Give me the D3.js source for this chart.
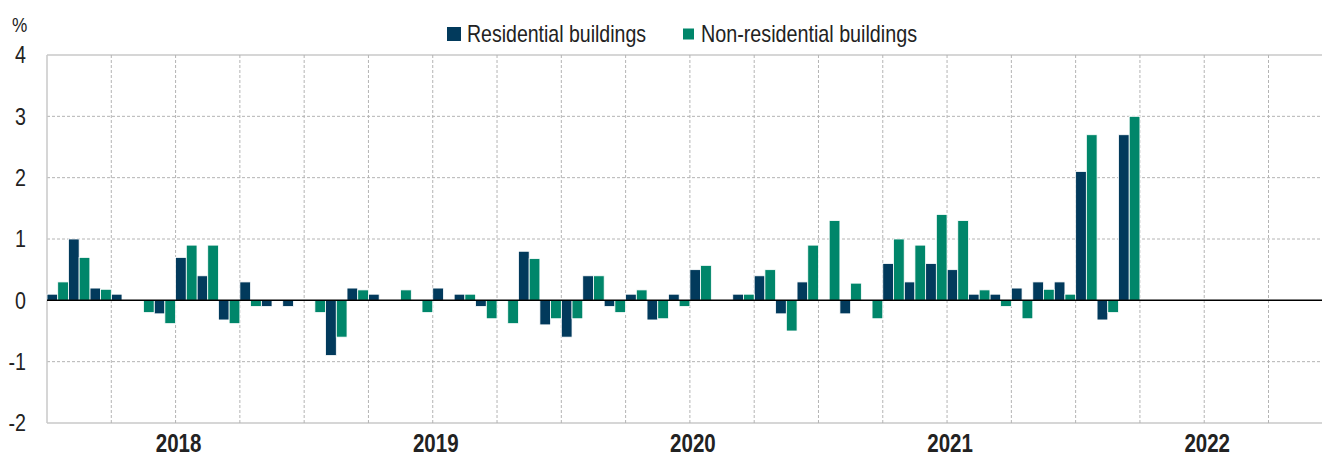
<!DOCTYPE html>
<html>
<head>
<meta charset="utf-8">
<script src="https://cdn.jsdelivr.net/npm/d3@7"></script>
<style>
  body { margin: 0; background: #fff; }
  svg text { font-family: "Liberation Sans Narrow", "Arial Narrow", "Liberation Sans", Arial, sans-serif; fill: #222; }
</style>
</head>
<body>
<div id="chart"></div>
<script>
"use strict";

// months on the axis, Jul 2017 .. Jun 2022 (data ends Sep 2021)
var months = d3.timeMonths(new Date(2017, 6, 1), new Date(2022, 6, 1));

var residential = [0.1, 1.0, 0.2, 0.1, 0, -0.22, 0.7, 0.4, -0.32, 0.3, -0.1, -0.1,
                   0, -0.9, 0.2, 0.1, 0, 0, 0.2, 0.1, -0.1, 0, 0.8, -0.4,
                   -0.6, 0.4, -0.1, 0.1, -0.32, 0.1, 0.5, 0, 0.1, 0.4, -0.22, 0.3,
                   0, -0.22, 0, 0.6, 0.3, 0.6, 0.5, 0.1, 0.1, 0.2, 0.3, 0.3,
                   2.1, -0.32, 2.7];
var nonResidential = [0.3, 0.7, 0.18, 0, -0.2, -0.38, 0.9, 0.9, -0.38, -0.1, 0, 0,
                      -0.2, -0.6, 0.17, 0, 0.17, -0.2, 0, 0.1, -0.3, -0.38, 0.68, -0.3,
                      -0.3, 0.4, -0.2, 0.17, -0.3, -0.1, 0.57, 0, 0.1, 0.5, -0.5, 0.9,
                      1.3, 0.28, -0.3, 1.0, 0.9, 1.4, 1.3, 0.17, -0.1, -0.3, 0.18, 0.1,
                      2.7, -0.2, 3.0];

var seriesNames = ["Residential buildings", "Non-residential buildings"];
var seriesColors = ["#023a5c", "#00866a"];
var yTicks = [-2, -1, 0, 1, 2, 3, 4];
var yearLabels = ["2018", "2019", "2020", "2021", "2022"];

var W = 1322, H = 456;
var margin = { top: 55, left: 47, bottom: 33 };
var monthW = 21.43;
var narrow = 0.82; // squeeze to look like Arial Narrow

var svg = d3.select("#chart").append("svg")
  .attr("width", W).attr("height", H);

var x = d3.scaleBand()
  .domain(months.map(function (d) { return +d; }))
  .range([margin.left, margin.left + months.length * monthW])
  .padding(0);

var sub = d3.scaleBand().domain([0, 1]).range([0, x.bandwidth()]).padding(0);

var y = d3.scaleLinear().domain([-2, 4]).range([H - margin.bottom, margin.top]);

// horizontal grid
svg.append("g").selectAll("line")
  .data(yTicks.filter(function (t) { return t !== 0; }))
  .enter().append("line")
  .attr("x1", margin.left).attr("x2", W)
  .attr("y1", function (d) { return y(d); }).attr("y2", function (d) { return y(d); })
  .attr("stroke", function (d) { return (d === 4 || d === -2) ? "#c8c8c8" : "#b4b4b4"; })
  .attr("stroke-width", function (d) { return (d === 4 || d === -2) ? 1.5 : 1; })
  .attr("stroke-dasharray", function (d) { return (d === 4 || d === -2) ? null : "3,2"; });

// vertical quarter grid
var quarters = months.filter(function (d, i) { return i > 0 && d.getMonth() % 3 === 0; });
svg.append("g").selectAll("line")
  .data(quarters)
  .enter().append("line")
  .attr("x1", function (d) { return x(+d); }).attr("x2", function (d) { return x(+d); })
  .attr("y1", y(4)).attr("y2", y(-2))
  .attr("stroke", "#b4b4b4")
  .attr("stroke-dasharray", "3,2");

// left frame
svg.append("line")
  .attr("x1", margin.left).attr("x2", margin.left)
  .attr("y1", y(4)).attr("y2", y(-2))
  .attr("stroke", "#c8c8c8").attr("stroke-width", 1.5);

// bars
var bars = [];
residential.forEach(function (v, i) { bars.push({ m: +months[i], s: 0, v: v }); });
nonResidential.forEach(function (v, i) { bars.push({ m: +months[i], s: 1, v: v }); });

svg.append("g").selectAll("rect")
  .data(bars.filter(function (d) { return d.v !== 0; }))
  .enter().append("rect")
  .attr("x", function (d) { return x(d.m) + sub(d.s); })
  .attr("width", sub.bandwidth())
  .attr("y", function (d) { return y(Math.max(0, d.v)); })
  .attr("height", function (d) { return Math.abs(y(d.v) - y(0)); })
  .attr("fill", function (d) { return seriesColors[d.s]; })
  .attr("stroke", "#fff")
  .attr("stroke-width", 0.8);

// zero line
svg.append("line")
  .attr("x1", margin.left).attr("x2", W)
  .attr("y1", y(0)).attr("y2", y(0))
  .attr("stroke", "#000").attr("stroke-width", 1.5);

// y axis labels
var yAxis = d3.axisLeft(y).tickValues(yTicks).tickSize(0).tickPadding(21 / narrow)
  .tickFormat(function (d) { return String(d); });
svg.append("g")
  .attr("transform", "translate(" + margin.left + ",0)")
  .call(yAxis)
  .call(function (g) { g.select(".domain").remove(); })
  .selectAll("text")
  .attr("transform", "scale(" + narrow + ",1)")
  .style("font-size", "24px")
  .attr("font-family", null)
  .attr("fill", "#222");

svg.append("text")
  .attr("transform", "translate(12,32) scale(" + narrow + ",1)")
  .style("font-size", "21px")
  .text("%");

// year labels
svg.append("g").selectAll("text")
  .data(yearLabels)
  .enter().append("text")
  .attr("transform", function (d) {
    return "translate(" + (x(+new Date(+d, 0, 1)) + 3) + ",452) scale(" + narrow + ",1)";
  })
  .attr("text-anchor", "middle")
  .style("font-size", "25px")
  .style("font-weight", "bold")
  .attr("fill", "#111")
  .text(function (d) { return d; });

// legend
var legendItems = [
  { name: seriesNames[0], color: seriesColors[0], sx: 447, size: 14, tx: 467, len: 179 },
  { name: seriesNames[1], color: seriesColors[1], sx: 683, size: 11, tx: 701, len: 216 }
];
var lg = svg.append("g");
lg.selectAll("rect")
  .data(legendItems)
  .enter().append("rect")
  .attr("x", function (d) { return d.sx; })
  .attr("y", function (d) { return 34 - d.size / 2; })
  .attr("width", function (d) { return d.size; })
  .attr("height", function (d) { return d.size; })
  .attr("fill", function (d) { return d.color; });
lg.selectAll("text")
  .data(legendItems)
  .enter().append("text")
  .attr("x", function (d) { return d.tx; })
  .attr("y", 42)
  .attr("textLength", function (d) { return d.len; })
  .attr("lengthAdjust", "spacingAndGlyphs")
  .style("font-size", "24px")
  .attr("fill", "#222")
  .text(function (d) { return d.name; });
</script>
</body>
</html>
